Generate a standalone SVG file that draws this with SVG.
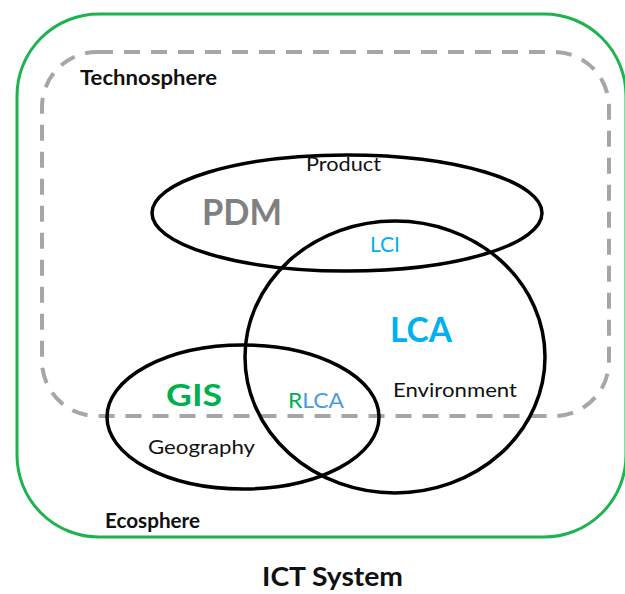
<svg xmlns="http://www.w3.org/2000/svg" width="625" height="594" viewBox="0 0 625 594">
<style>
.t{font-family:Lato,"Liberation Sans",sans-serif;fill:#111}
.b{font-weight:bold}
.ring{fill:none;stroke:#000;stroke-width:3.5}
</style>
<rect width="625" height="594" fill="#fff"/>
<g id="ict">
<rect x="17" y="14" width="609" height="523" rx="82" ry="82" fill="none" stroke="#1db34f" stroke-width="3"/>
<text class="t b" x="105" y="528" font-size="21" textLength="95" lengthAdjust="spacingAndGlyphs">Ecosphere</text>
<text class="t b" x="262" y="586" font-size="27" textLength="141" lengthAdjust="spacingAndGlyphs">ICT System</text>
</g>
<g id="technosphere">
<rect x="42" y="52" width="567" height="364" rx="55" ry="55" fill="none" stroke="#a6a6a6" stroke-width="4" stroke-dasharray="16 11"/>
<text class="t b" x="80" y="85" font-size="21" textLength="137" lengthAdjust="spacingAndGlyphs">Technosphere</text>
</g>
<g id="pdm">
<ellipse class="ring" cx="347" cy="213" rx="195" ry="58"/>
<text class="t" x="306" y="171" font-size="20" textLength="75" lengthAdjust="spacingAndGlyphs">Product</text>
<text class="t b" x="202" y="225" font-size="37" textLength="80" lengthAdjust="spacingAndGlyphs" style="fill:#808080">PDM</text>
</g>
<g id="lca">
<ellipse class="ring" cx="395" cy="357" rx="150" ry="136"/>
<text class="t" x="370" y="252" font-size="21" textLength="30" lengthAdjust="spacingAndGlyphs" style="fill:#00b0f0">LCI</text>
<text class="t b" x="390" y="342" font-size="34" textLength="62" lengthAdjust="spacingAndGlyphs" style="fill:#00b0f0">LCA</text>
<text class="t" x="393" y="397" font-size="20" textLength="124" lengthAdjust="spacingAndGlyphs">Environment</text>
</g>
<g id="gis">
<ellipse class="ring" cx="243" cy="417" rx="136" ry="72"/>
<text class="t b" x="166" y="406" font-size="31" textLength="56" lengthAdjust="spacingAndGlyphs" style="fill:#00b050">GIS</text>
<text class="t" x="148" y="454" font-size="20" textLength="107" lengthAdjust="spacingAndGlyphs">Geography</text>
<text class="t" x="288" y="408" font-size="21" textLength="56" lengthAdjust="spacingAndGlyphs"><tspan style="fill:#00b050">R</tspan><tspan style="fill:#4a9be0">LCA</tspan></text>
</g>
<g id="connectors"></g>
</svg>
